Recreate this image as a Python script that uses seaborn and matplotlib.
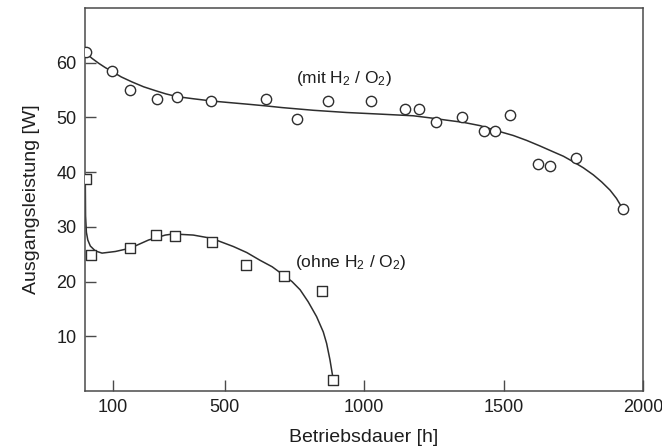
import matplotlib
matplotlib.use("Agg")
import matplotlib.pyplot as plt
import seaborn as sns

# --- data ---
mit_x = [3, 96, 161, 257, 329, 452, 648, 759, 872, 1025, 1147, 1197, 1257,
         1350, 1429, 1471, 1525, 1623, 1665, 1760, 1930]
mit_y = [62.0, 58.5, 55.0, 53.4, 53.7, 53.0, 53.4, 49.7, 53.0, 53.0, 51.5,
         51.5, 49.2, 50.0, 47.6, 47.6, 50.4, 41.5, 41.2, 42.6, 33.2]

ohne_x = [2, 22, 161, 254, 324, 455, 578, 712, 848, 890]
ohne_y = [38.8, 24.9, 26.1, 28.6, 28.3, 27.2, 23.0, 21.0, 18.3, 2.0]

# fitted curves as drawn in the reference
mit_curve_x = [1, 25, 49, 73, 97, 130, 168, 210, 252, 290, 330, 390, 455,
               520, 587, 650, 706, 820, 938, 1060, 1177, 1240, 1296, 1356,
               1416, 1487, 1535, 1583, 1630, 1679, 1715, 1750, 1786, 1822,
               1852, 1882, 1905, 1926]
mit_curve_y = [61.9, 60.8, 59.9, 59.1, 58.4, 57.4, 56.5, 55.6, 54.9, 54.3,
               53.8, 53.4, 53.0, 52.7, 52.4, 52.1, 51.8, 51.3, 50.9, 50.6,
               50.3, 49.9, 49.5, 49.1, 48.5, 47.4, 46.7, 45.8, 44.8, 43.7,
               42.9, 41.9, 40.8, 39.5, 38.2, 36.7, 35.2, 33.4]

ohne_curve_x = [1, 2, 5, 10, 19, 37, 61, 109, 162, 228, 288, 316, 388, 454,
                532, 580, 627, 671, 711, 742, 771, 800, 830, 854, 866, 878,
                888]
ohne_curve_y = [38.7, 32.0, 29.0, 27.6, 26.5, 25.6, 25.2, 25.5, 26.1, 27.6,
                28.5, 28.7, 28.5, 27.9, 26.4, 25.3, 23.9, 22.7, 21.2, 20.0,
                18.5, 16.3, 13.6, 10.8, 8.7, 5.7, 2.6]

x_ticks = [100, 500, 1000, 1500, 2000]
y_ticks = [10, 20, 30, 40, 50, 60]
x_label = "Betriebsdauer [h]"
y_label = "Ausgangsleistung [W]"
label_mit = "(mit H$_2$ / O$_2$)"
label_ohne = "(ohne H$_2$ / O$_2$)"

sns.set_theme(style="white")
plt.rcParams["font.family"] = ["Liberation Sans", "DejaVu Sans"]
plt.rcParams["mathtext.fontset"] = "custom"
plt.rcParams["mathtext.rm"] = "Liberation Sans"
plt.rcParams["mathtext.it"] = "Liberation Sans"
plt.rcParams["mathtext.default"] = "rm"

fig = plt.figure(figsize=(6.62, 4.48), dpi=100)
ax = fig.add_axes([85 / 662, 1 - 391 / 448, 558 / 662, 383 / 448])

line_col = "#2e2e2e"
frame_col = "#4a4a4a"
text_col = "#1e1e1e"

sns.lineplot(x=mit_curve_x, y=mit_curve_y, ax=ax, color=line_col, lw=1.1,
             sort=False, estimator=None)
sns.lineplot(x=ohne_curve_x, y=ohne_curve_y, ax=ax, color=line_col, lw=1.1,
             sort=False, estimator=None)

sns.scatterplot(x=mit_x, y=mit_y, ax=ax, marker="o", s=55, facecolor="white",
                edgecolor=line_col, linewidth=1.0, zorder=3)
sns.scatterplot(x=ohne_x, y=ohne_y, ax=ax, marker="s", s=48, facecolor="white",
                edgecolor=line_col, linewidth=1.0, zorder=3)

ax.text(756, 57.2, label_mit, fontsize=12.5, color=text_col, va="center", ha="left")
ax.text(753, 23.4, label_ohne, fontsize=12.5, color=text_col, va="center", ha="left")

ax.set_xlim(0, 2000)
ax.set_ylim(0, 70)
ax.set_xticks(x_ticks)
ax.set_yticks(y_ticks)
ax.tick_params(axis="both", direction="in", length=8, width=1.0, color=frame_col,
               labelsize=13, labelcolor=text_col, pad=6)
ax.tick_params(axis="x", bottom=True, top=False)
ax.tick_params(axis="y", left=True, right=False)
ax.set_xlabel(x_label, fontsize=14, color=text_col, labelpad=9)
ax.set_ylabel(y_label, fontsize=14, color=text_col, labelpad=12)
for s in ax.spines.values():
    s.set_color(frame_col)
    s.set_linewidth(1.1)
    s.set_visible(True)

fig.savefig("out.png", dpi=100)
